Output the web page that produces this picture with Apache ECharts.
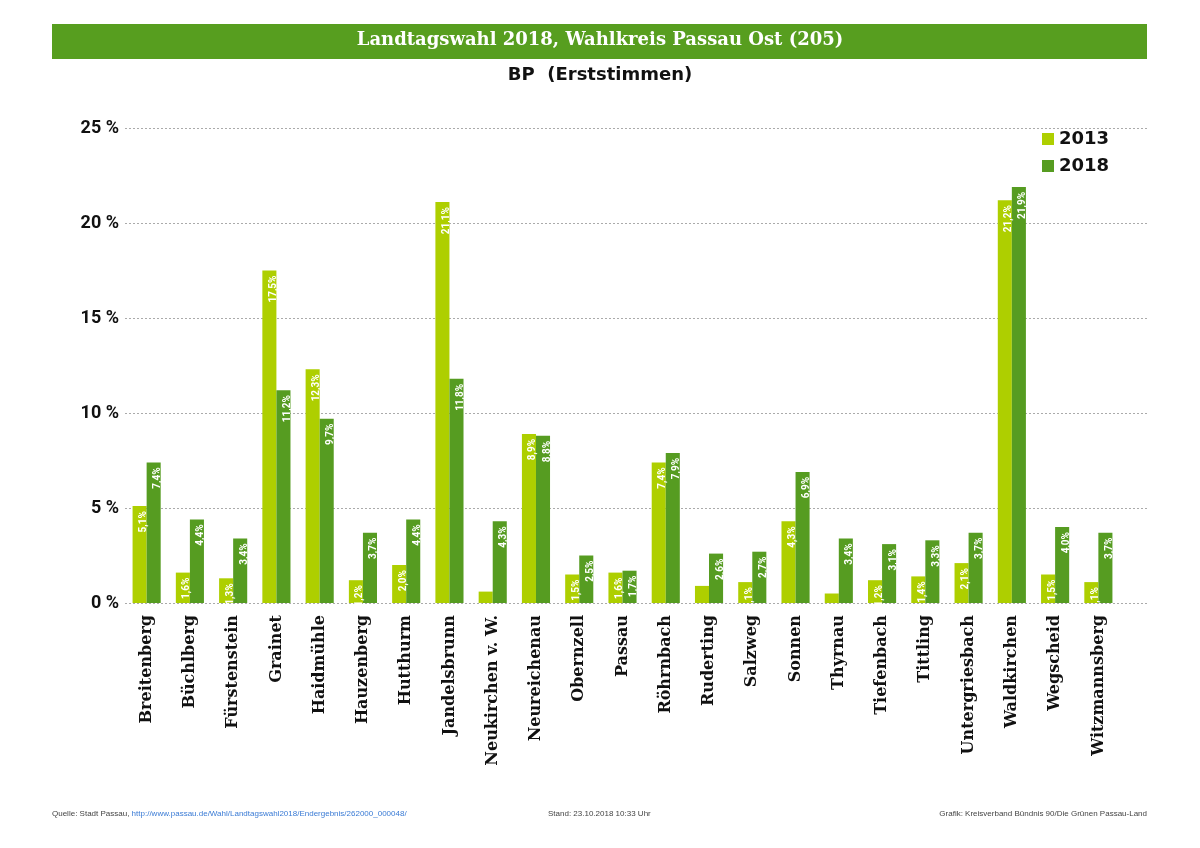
<!DOCTYPE html>
<html>
<head>
<meta charset="utf-8">
<script src="https://cdn.jsdelivr.net/npm/echarts@6/dist/echarts.min.js"></script>
<style>
  html, body { margin: 0; padding: 0; background: #fff; }
  #chart { width: 1200px; height: 848px; }
</style>
</head>
<body>
<div id="chart"></div>
<script>
// Gemeinden
const gemeinden = ['Breitenberg', 'Büchlberg', 'Fürstenstein', 'Grainet', 'Haidmühle', 'Hauzenberg',
  'Hutthurm', 'Jandelsbrunn', 'Neukirchen v. W.', 'Neureichenau', 'Obernzell', 'Passau', 'Röhrnbach',
  'Ruderting', 'Salzweg', 'Sonnen', 'Thyrnau', 'Tiefenbach', 'Tittling', 'Untergriesbach',
  'Waldkirchen', 'Wegscheid', 'Witzmannsberg'];

// BP Erststimmen in %
const werte2013 = [5.1, 1.6, 1.3, 17.5, 12.3, 1.2, 2.0, 21.1, 0.6, 8.9, 1.5, 1.6, 7.4,
  0.9, 1.1, 4.3, 0.5, 1.2, 1.4, 2.1, 21.2, 1.5, 1.1];
const werte2018 = [7.4, 4.4, 3.4, 11.2, 9.7, 3.7, 4.4, 11.8, 4.3, 8.8, 2.5, 1.7, 7.9,
  2.6, 2.7, 6.9, 3.4, 3.1, 3.3, 3.7, 21.9, 4.0, 3.7];

const yTicks = [0, 5, 10, 15, 20, 25];

const hell = '#aecf00';
const dunkel = '#569c21';

const chart = echarts.init(document.getElementById('chart'));

function balkenLabel(p) {
  if (p.value < 1) return '';
  return p.value.toFixed(1).replace('.', ',') + '%';
}

const label = {
  show: true,
  position: 'insideTop',
  rotate: 90,
  align: 'right',
  verticalAlign: 'middle',
  offset: [0, 4],
  color: '#fff',
  fontSize: 10,
  fontWeight: 'bold',
  fontFamily: 'Liberation Sans Narrow, Roboto, sans-serif',
  formatter: balkenLabel
};

chart.setOption({
  animation: false,
  backgroundColor: '#fff',
  graphic: [
    { type: 'rect', shape: { x: 52, y: 24, width: 1095, height: 35 }, style: { fill: '#579e1f' } },
    { type: 'text', left: 'center', top: 31,
      style: { text: 'Landtagswahl 2018, Wahlkreis Passau Ost (205)', fill: '#fff',
        font: 'bold 18px "DejaVu Serif"' } },
    { type: 'text', left: 'center', top: 66,
      style: { text: 'BP  (Erststimmen)', fill: '#111', font: 'bold 18px "DejaVu Sans"' } },
    { type: 'text', left: 52, top: 810,
      style: { rich: { a: { fontSize: 8, fill: '#444', fontFamily: 'Liberation Sans' },
                       b: { fontSize: 8, fill: '#3a7bd5', fontFamily: 'Liberation Sans' } },
        text: '{a|Quelle: Stadt Passau, }{b|http://www.passau.de/Wahl/Landtagswahl2018/Endergebnis/262000_000048/}' } },
    { type: 'text', left: 548, top: 810,
      style: { text: 'Stand: 23.10.2018 10:33 Uhr', fill: '#444', font: '8px "Liberation Sans"' } },
    { type: 'text', right: 53, top: 810,
      style: { text: 'Grafik: Kreisverband Bündnis 90/Die Grünen Passau-Land', fill: '#444', font: '8px "Liberation Sans"' } }
  ],
  legend: {
    data: ['2013', '2018'],
    orient: 'vertical',
    left: 1037,
    top: 125,
    itemWidth: 12,
    itemHeight: 12,
    itemGap: 9,
    icon: 'rect',
    textStyle: { fontSize: 18, fontWeight: 'bold', color: '#111', fontFamily: 'DejaVu Sans' }
  },
  grid: [
    { left: 125, right: 80, top: 128, bottom: 245 },
    { left: 125, right: 53, top: 128, bottom: 245 }
  ],
  xAxis: [
    {
      type: 'category',
      gridIndex: 0,
      data: gemeinden,
      axisLine: { show: false },
      axisTick: { show: false },
      axisLabel: {
        rotate: 90,
        interval: 0,
        margin: 12,
        fontSize: 16,
        fontWeight: 'bold',
        color: '#111',
        fontFamily: 'DejaVu Serif'
      }
    },
    { type: 'value', gridIndex: 1, show: false, min: 0, max: 1 }
  ],
  yAxis: [
    {
      type: 'value',
      gridIndex: 0,
      min: 0,
      max: 25,
      interval: 5,
      axisLine: { show: false },
      axisTick: { show: false },
      splitLine: { show: false },
      axisLabel: {
        margin: 6,
        fontSize: 18,
        fontWeight: 'bold',
        color: '#111',
        fontFamily: 'Roboto',
        formatter: v => yTicks.includes(v) ? v + ' %' : ''
      }
    },
    {
      type: 'value',
      gridIndex: 1,
      min: 0,
      max: 25,
      interval: 5,
      axisLine: { show: false },
      axisTick: { show: false },
      axisLabel: { show: false },
      splitLine: { show: true, lineStyle: { color: '#aaa', type: [2, 2], width: 1 } }
    }
  ],
  series: [
    {
      name: '2013',
      type: 'bar',
      xAxisIndex: 0,
      yAxisIndex: 0,
      data: werte2013,
      barGap: '0%',
      barCategoryGap: '35%',
      itemStyle: { color: hell },
      label: label,
      z: 3
    },
    {
      name: '2018',
      type: 'bar',
      xAxisIndex: 0,
      yAxisIndex: 0,
      data: werte2018,
      barGap: '0%',
      barCategoryGap: '35%',
      itemStyle: { color: dunkel },
      label: label,
      z: 3
    }
  ]
});
</script>
</body>
</html>
